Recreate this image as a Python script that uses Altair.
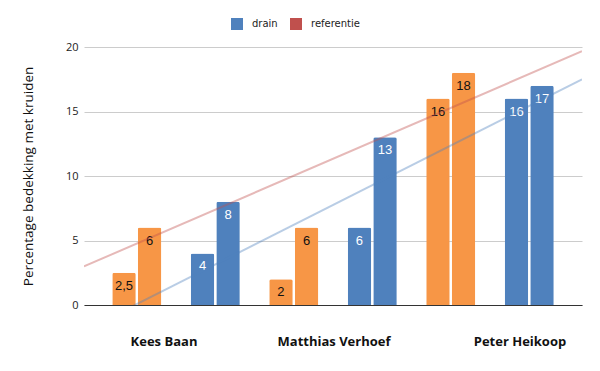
import altair as alt
import pandas as pd

# ---- data ----
groups = [1, 2, 3, 4, 5, 6]
series_names = ["drain", "referentie"]
first_bar = [2.5, 4, 2, 6, 16, 16]        # series "drain"
second_bar = [6, 8, 6, 13, 18, 17]        # series "referentie"
group_kind = ["oranje", "blauw", "oranje", "blauw", "oranje", "blauw"]
farmers = ["Kees Baan", "Matthias Verhoef", "Peter Heikoop"]
farmer_nr = [1, 2, 3]
y_ticks = [0, 5, 10, 15, 20]

rows = []
for g, a, b, k in zip(groups, first_bar, second_bar, group_kind):
    rows.append({"groep": g, "reeks": series_names[0], "waarde": a, "kleur": k})
    rows.append({"groep": g, "reeks": series_names[1], "waarde": b, "kleur": k})
df = pd.DataFrame(rows)
farm_df = pd.DataFrame({"boer": farmers, "nr": farmer_nr})

W, H = 498, 258
FONT = "Open Sans"
PI, PO = 0.375, 0.36
lo = 1 - PO - (1 - PI) / 2
hi = len(groups) + PO + (1 - PI) / 2

yscale = alt.Scale(domain=[0, 20], nice=False)
xq = alt.Scale(domain=[lo, hi], nice=False, zero=False)

yaxis = alt.Axis(values=y_ticks, title="Percentage bedekking met kruiden",
                 ticks=False, domain=False, labelPadding=6, gridColor="#cccccc",
                 labelFont=FONT, labelFontSize=11, labelColor="#222222",
                 titleFont=FONT, titleFontSize=13.5, titleFontWeight="normal",
                 titleColor="#111111", titlePadding=30)

bars = alt.Chart(df).mark_bar(cornerRadiusTopLeft=2, cornerRadiusTopRight=2).encode(
    x=alt.X("groep:O", scale=alt.Scale(paddingInner=PI, paddingOuter=PO),
            axis=alt.Axis(title=None, labels=False, ticks=False, domain=True,
                          domainColor="#333333", domainWidth=1, grid=False)),
    xOffset=alt.XOffset("reeks:N", scale=alt.Scale(paddingInner=0.08, paddingOuter=0)),
    y=alt.Y("waarde:Q", scale=yscale, axis=yaxis),
    color=alt.condition("datum.kleur == 'oranje'", alt.value("#F79646"), alt.value("#4F81BD")),
)

bar_labels = alt.Chart(df).transform_calculate(
    lbl="replace(toString(datum.waarde), '.', ',')"
).mark_text(baseline="middle", dy=13, font="Liberation Sans", fontSize=13).encode(
    x=alt.X("groep:O", scale=alt.Scale(paddingInner=PI, paddingOuter=PO)),
    xOffset=alt.XOffset("reeks:N", scale=alt.Scale(paddingInner=0.08, paddingOuter=0)),
    y=alt.Y("waarde:Q", scale=yscale),
    text="lbl:N",
    color=alt.condition("datum.kleur == 'oranje'", alt.value("#111111"), alt.value("#ffffff")),
)

bar_layer = alt.layer(bars, bar_labels)

cscale = alt.Scale(domain=series_names, range=["#4F81BD", "#C0504D"])
legend_def = alt.Legend(
    title=None, orient="none", legendX=147, legendY=-29, direction="horizontal",
    symbolType="square", symbolSize=144, symbolOpacity=1, symbolStrokeWidth=0,
    labelFont="DejaVu Sans", labelFontSize=10, labelColor="#222222",
    labelOffset=9, columnPadding=12)

trend_base = alt.Chart(df).transform_regression(
    "groep", "waarde", groupby=["reeks"], extent=[lo, hi])

lines = trend_base.mark_line(strokeWidth=2, opacity=0.4, clip=True).encode(
    x=alt.X("groep:Q", scale=xq, axis=None),
    y=alt.Y("waarde:Q", scale=yscale),
    color=alt.Color("reeks:N", scale=cscale, legend=legend_def),
)

legend_pts = trend_base.mark_square(opacity=0, size=10).encode(
    x=alt.X("groep:Q", scale=xq, axis=None),
    y=alt.Y("waarde:Q", scale=yscale),
    color=alt.Color("reeks:N", scale=cscale, legend=legend_def),
)

label_dx = [-12, 1, 30]
farmer_layers = []
for name, dx in zip(farmers, label_dx):
    farmer_layers.append(
        alt.Chart(farm_df).transform_filter(alt.datum.boer == name)
        .transform_calculate(pos="2 * datum.nr - 0.5")
        .mark_text(font=FONT, fontSize=13, fontWeight="bold", color="#111111",
                   baseline="middle", dx=dx)
        .encode(x=alt.X("pos:Q", scale=xq, axis=None), y=alt.value(H + 37), text="boer:N")
    )

trend_layer = alt.layer(legend_pts, lines, *farmer_layers)

chart = alt.layer(bar_layer, trend_layer).resolve_scale(x="independent").properties(
    width=W, height=H, padding={"left": 13, "top": 10, "right": 5, "bottom": 5}
).configure_view(stroke=None)

chart.save("out.html", embed_options={"renderer": "svg", "actions": False})
